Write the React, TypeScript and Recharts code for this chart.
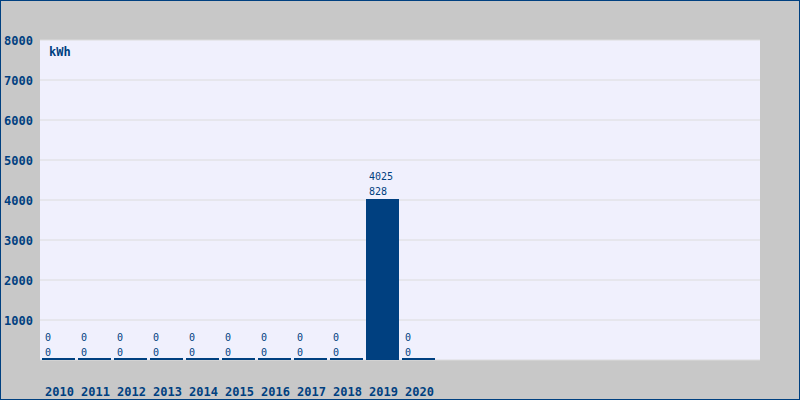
import React from "react";
import { BarChart, Bar, XAxis, YAxis, CartesianGrid, LabelList } from "recharts";

const years = ["2010", "2011", "2012", "2013", "2014", "2015", "2016", "2017", "2018", "2019", "2020"];
const energy = [0, 0, 0, 0, 0, 0, 0, 0, 0, 4025, 0];
const second = [0, 0, 0, 0, 0, 0, 0, 0, 0, 828, 0];
const yTicks = [1000, 2000, 3000, 4000, 5000, 6000, 7000, 8000];

const data = years.map((year, i) => ({ year, energy: energy[i], second: second[i] }));

const BLUE = "#004080";
const MONO = "'DejaVu Sans Mono', 'Liberation Mono', monospace";

const XTick = (props: any) => {
  const { x, y, payload } = props;
  return (
    <text x={x - 13} y={y + 24} textAnchor="start" dy="0.35em" fill={BLUE}
      fontFamily={MONO} fontWeight="bold" fontSize={12}>
      {payload.value}
    </text>
  );
};

const YTick = (props: any) => {
  const { y, payload } = props;
  return (
    <text x={33} y={y + 1} textAnchor="end" dy="0.35em" fill={BLUE}
      fontFamily={MONO} fontWeight="bold" fontSize={12}>
      {payload.value}
    </text>
  );
};

const ValueLabel = (props: any) => {
  const { x, y, height, index } = props;
  const base = energy[index] === 0 ? y + height : y;
  return (
    <g fontFamily={MONO} fontSize={10} fill={BLUE}>
      <text x={x + 3} y={base - 23} dy="0.35em">{energy[index]}</text>
      <text x={x + 3} y={base - 8} dy="0.35em">{second[index]}</text>
    </g>
  );
};

export default function App() {
  return (
    <div style={{ position: "absolute", left: 0, top: 0, width: 800, height: 400, background: "#c8c8c8" }}>
      <BarChart width={800} height={400} data={data}
        margin={{ top: 40, right: 40, bottom: 0, left: 0 }}>
        <CartesianGrid vertical={false} fill="#f0f0fd" stroke="#dcdcdc" fillOpacity={1} />
        <XAxis dataKey="year" height={40} axisLine={false} tickLine={false}
          padding={{ left: 0, right: 324 }} tick={<XTick />} interval={0} />
        <YAxis width={40} domain={[0, 8000]} ticks={yTicks} axisLine={false} tickLine={false}
          tick={<YTick />} />
        <Bar dataKey="energy" fill={BLUE} barSize={33} minPointSize={2} isAnimationActive={false}>
          <LabelList dataKey="energy" content={<ValueLabel />} />
        </Bar>
        <text x={49} y={52} dy="0.35em" fill={BLUE} fontFamily={MONO} fontWeight="bold" fontSize={12}>
          kWh
        </text>
      </BarChart>
      <div style={{ position: "absolute", left: 0, top: 0, width: 800, height: 400, boxSizing: "border-box",
        border: `1px solid ${BLUE}`, pointerEvents: "none" }} />
    </div>
  );
}
